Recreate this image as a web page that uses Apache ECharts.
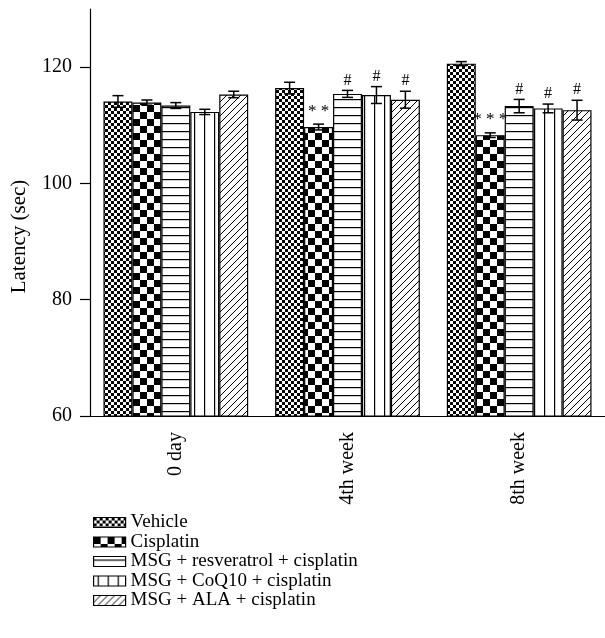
<!DOCTYPE html>
<html><head><meta charset="utf-8">
<script src="https://cdn.jsdelivr.net/npm/echarts@6/dist/echarts.min.js"></script>
<style>html,body{margin:0;padding:0;background:#fff}#c{width:605px;height:638px}</style>
</head><body><div id="c"></div>
<script>
const categories = ['0 day', '4th week', '8th week'];
const seriesNames = ['Vehicle', 'Cisplatin', 'MSG + resveratrol + cisplatin', 'MSG + CoQ10 + cisplatin', 'MSG + ALA + cisplatin'];
const vehicle   = [114.1, 116.4, 120.6];
const cisplatin = [113.9, 109.7, 108.3];
const resv      = [113.4, 115.4, 113.3];
const coq10     = [112.3, 115.2, 112.9];
const ala       = [115.3, 114.4, 112.6];
const vehicleErr   = [1.0, 1.0, 0.35];
const cisplatinErr = [0.45, 0.5, 0.4];
const resvErr      = [0.5, 0.6, 1.15];
const coq10Err     = [0.45, 1.45, 0.75];
const alaErr       = [0.55, 1.45, 1.7];
const vehicleNote   = ['', '', ''];
const cisplatinNote = ['', '* *', '* * *'];
const resvNote      = ['', '#', '#'];
const coq10Note     = ['', '#', '#'];
const alaNote       = ['', '#', '#'];
const yTicks = [60, 80, 100, 120];

const means = [vehicle, cisplatin, resv, coq10, ala];
const errs = [vehicleErr, cisplatinErr, resvErr, coq10Err, alaErr];
const notes = [vehicleNote, cisplatinNote, resvNote, coq10Note, alaNote];

function mk(w, h, draw) {
  const c = document.createElement('canvas'); c.width = w; c.height = h;
  const g = c.getContext('2d'); g.fillStyle = '#fff'; g.fillRect(0, 0, w, h);
  g.fillStyle = '#000'; g.strokeStyle = '#000'; draw(g); return c;
}
const patterns = [
  mk(6, 6, g => { g.fillRect(0, 0, 3, 3); g.fillRect(3, 3, 3, 3); }),
  mk(14, 14, g => { g.fillRect(0, 0, 7, 7); g.fillRect(7, 7, 7, 7); }),
  mk(8, 8, g => { g.fillRect(0, 3, 8, 1.2); }),
  mk(10, 8, g => { g.fillRect(4, 0, 1.2, 8); }),
  mk(7, 7, g => { g.lineWidth = 1; g.beginPath(); g.moveTo(-1, 8); g.lineTo(8, -1); g.moveTo(-1, 1); g.lineTo(1, -1); g.moveTo(6, 8); g.lineTo(8, 6); g.stroke(); })
];

const FONT = '"Liberation Serif", "DejaVu Serif", serif';
const GAP = 0.157;

const barSeries = seriesNames.map((n, i) => ({
  name: n, type: 'bar', data: means[i], barGap: '0%', barCategoryGap: (GAP * 100) + '%',
  itemStyle: { color: { image: patterns[i], repeat: 'repeat' }, borderColor: '#000', borderWidth: 1.2 },
  emphasis: { disabled: true }, z: 2
}));

const errData = [];
for (let s = 0; s < 5; s++) for (let c = 0; c < categories.length; c++)
  errData.push([c, means[s][c], errs[s][c], s, notes[s][c]]);

const errSeries = {
  type: 'custom', data: errData, z: 5, silent: true,
  encode: { x: 0, y: 1 },
  renderItem: function (params, api) {
    const c = api.value(0), m = api.value(1), e = api.value(2), s = api.value(3);
    const note = errData[params.dataIndex][4];
    const band = api.size([1, 0])[0];
    const bw = band * (1 - GAP) / 5;
    const x = api.coord([c, m])[0] + (s - 2) * bw;
    const yHi = api.coord([c, m + e])[1];
    const yLo = api.coord([c, m - e])[1];
    const cap = 5.5;
    const st = { stroke: '#000', lineWidth: 1.5 };
    const ch = [
      { type: 'line', shape: { x1: x, y1: yHi, x2: x, y2: yLo }, style: st },
      { type: 'line', shape: { x1: x - cap, y1: yHi, x2: x + cap, y2: yHi }, style: st },
      { type: 'line', shape: { x1: x - cap, y1: yLo, x2: x + cap, y2: yLo }, style: st }
    ];
    if (note) {
      const isStar = note.indexOf('*') >= 0;
      ch.push({ type: 'text', x: x, y: yHi - (isStar ? 13 : 10), style: {
        text: note, fill: '#000', font: (isStar ? '17px ' : '16px ') + FONT,
        align: 'center', verticalAlign: 'middle' } });
    }
    return { type: 'group', children: ch };
  }
};

const chart = echarts.init(document.getElementById('c'), null, { renderer: 'canvas' });
chart.setOption({
  animation: false,
  backgroundColor: '#fff',
  textStyle: { fontFamily: FONT },
  grid: { left: 90, top: 9, width: 517, height: 407, containLabel: false },
  xAxis: {
    type: 'category', data: categories,
    axisLine: { lineStyle: { color: '#000', width: 1.2 } },
    axisTick: { alignWithLabel: true, length: 10, lineStyle: { color: '#000', width: 1.2 } },
    axisLabel: { rotate: 90, margin: 16, color: '#000', fontSize: 20, fontFamily: FONT }
  },
  yAxis: {
    type: 'value', min: 60, max: 130, interval: 20,
    name: 'Latency (sec)', nameLocation: 'middle', nameGap: 60,
    nameTextStyle: { color: '#000', fontSize: 21, fontFamily: FONT, padding: [0, 48, 0, 0] },
    splitLine: { show: false },
    axisLine: { show: true, lineStyle: { color: '#000', width: 1.2 } },
    axisTick: { show: true, length: 10, customValues: yTicks, lineStyle: { color: '#000', width: 1.2 } },
    axisLabel: { color: '#000', fontSize: 20, margin: 18, fontFamily: FONT, customValues: yTicks }
  },
  legend: {
    orient: 'vertical', left: 88, top: 508, itemWidth: 32, itemHeight: 10, itemGap: 0.5,
    data: seriesNames.map(n => ({ name: n, icon: 'rect' })), selectedMode: false,
    textStyle: { color: '#000', fontSize: 19, fontFamily: FONT, padding: [0, 0, 0, 0] },
    itemStyle: { borderColor: '#000', borderWidth: 1.2 }
  },
  series: [...barSeries, errSeries]
});
</script></body></html>
